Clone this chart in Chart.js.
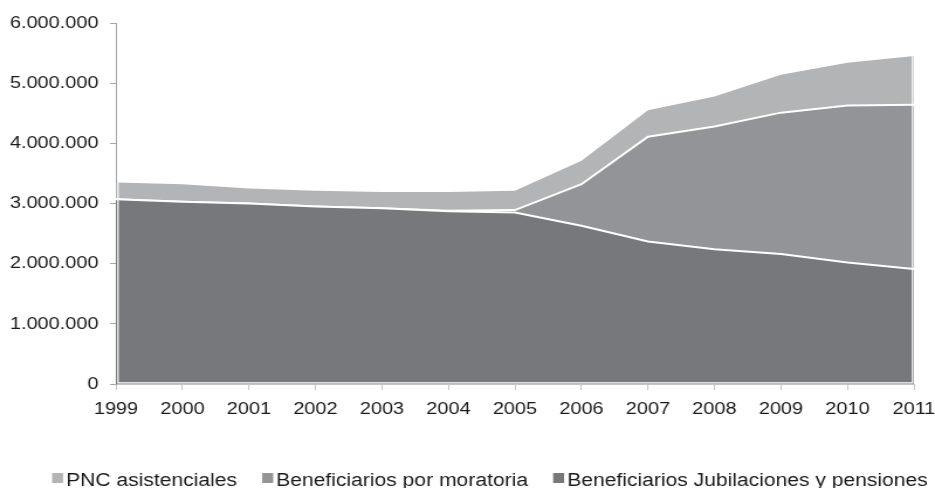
<!DOCTYPE html>
<html>
<head>
<meta charset="utf-8">
<script src="https://cdn.jsdelivr.net/npm/chart.js@4"></script>
<style>
  html, body { margin: 0; padding: 0; background: #fff; overflow: hidden; }
  #wrap { position: absolute; left: 0; top: 0; width: 799px; height: 488px; transform: scaleX(1.1702); transform-origin: 0 0; }
  canvas { display: block; }
</style>
</head>
<body>
<div id="wrap"><canvas id="c"></canvas></div>
<script>
// ---- data ----
const years = ['1999','2000','2001','2002','2003','2004','2005','2006','2007','2008','2009','2010','2011'];
const jubilaciones = [3070000, 3030000, 3000000, 2950000, 2920000, 2870000, 2850000, 2630000, 2370000, 2240000, 2160000, 2020000, 1910000];
const moratoria    = [0, 0, 0, 0, 0, 10000, 40000, 690000, 1740000, 2040000, 2350000, 2610000, 2730000];
const pnc          = [280000, 290000, 250000, 260000, 270000, 310000, 320000, 390000, 440000, 500000, 630000, 710000, 810000];
const yTickLabels  = ['0', '1.000.000', '2.000.000', '3.000.000', '4.000.000', '5.000.000', '6.000.000'];
const seriesNames  = ['PNC asistenciales', 'Beneficiarios por moratoria', 'Beneficiarios Jubilaciones y pensiones'];

const FONT = '"Liberation Sans", Arial, sans-serif';

const legendPlugin = {
  id: 'bottomLegend',
  afterDatasetsDraw(chart) {
    // thin white rim between the filled areas and the axes
    const a = chart.chartArea, ctx = chart.ctx;
    const top = chart.getDatasetMeta(2).data;
    const yFirst = top[0].y, yLast = top[top.length - 1].y;
    ctx.save();
    ctx.strokeStyle = '#ffffff';
    ctx.lineWidth = 1.2;
    ctx.beginPath();
    ctx.moveTo(a.left + 1.7, yFirst);
    ctx.lineTo(a.left + 1.7, a.bottom - 1.2);
    ctx.lineTo(a.right - 1.2, a.bottom - 1.2);
    ctx.lineTo(a.right - 1.2, yLast);
    ctx.stroke();
    ctx.restore();
  },
  afterDraw(chart) {
    const ctx = chart.ctx;
    const ds = chart.data.datasets;
    const order = [2, 1, 0]; // PNC, moratoria, jubilaciones
    ctx.save();
    ctx.font = '18px ' + FONT;
    ctx.textBaseline = 'alphabetic';
    ctx.textAlign = 'left';
    let x = 44.5;
    const boxW = 9.4, boxH = 10, gap = 2.6, itemGap = 21.5;
    order.forEach(i => {
      const d = ds[i];
      ctx.fillStyle = d.backgroundColor;
      ctx.fillRect(x, 473, boxW, boxH);
      ctx.fillStyle = '#1a1a1a';
      ctx.fillText(d.label, x + boxW + gap, 485.5);
      x += boxW + gap + ctx.measureText(d.label).width + itemGap;
    });
    ctx.restore();
  }
};

new Chart(document.getElementById('c'), {
  type: 'line',
  data: {
    labels: years,
    datasets: [
      { label: seriesNames[2], data: jubilaciones, backgroundColor: '#77787c', borderColor: '#ffffff', borderWidth: 2, fill: 'origin', pointRadius: 0, tension: 0 },
      { label: seriesNames[1], data: moratoria, backgroundColor: '#939498', borderColor: '#ffffff', borderWidth: 2, fill: '-1', pointRadius: 0, tension: 0 },
      { label: seriesNames[0], data: pnc, backgroundColor: '#b3b4b6', borderColor: 'rgba(255,255,255,0)', borderWidth: 0, fill: '-1', pointRadius: 0, tension: 0 }
    ]
  },
  options: {
    responsive: true,
    maintainAspectRatio: false,
    animation: false,
    events: [],
    layout: { padding: { left: 0, right: 18, top: 23, bottom: 64 } },
    plugins: { legend: { display: false }, tooltip: { enabled: false } },
    scales: {
      x: {
        stacked: true,
        offset: false,
        grid: { drawOnChartArea: false, drawTicks: true, tickLength: 6, color: '#c4c4c4' },
        border: { color: '#c4c4c4', width: 1 },
        ticks: { color: '#1a1a1a', font: { family: FONT, size: 17 }, padding: 9, maxRotation: 0, autoSkip: false },
        afterFit: s => { s.height = 40; s.paddingLeft = 0; s.paddingRight = 0; }
      },
      y: {
        stacked: true,
        min: 0,
        max: 6000000,
        grid: { drawOnChartArea: false, drawTicks: true, tickLength: 5, color: '#a6a6a6' },
        border: { color: '#a6a6a6', width: 1 },
        ticks: {
          stepSize: 1000000,
          color: '#1a1a1a',
          font: { family: FONT, size: 17 },
          padding: 10,
          callback: (v, i) => yTickLabels[i]
        },
        afterFit: s => { s.width = 99.1; }
      }
    }
  },
  plugins: [legendPlugin]
});
</script>
</body>
</html>
